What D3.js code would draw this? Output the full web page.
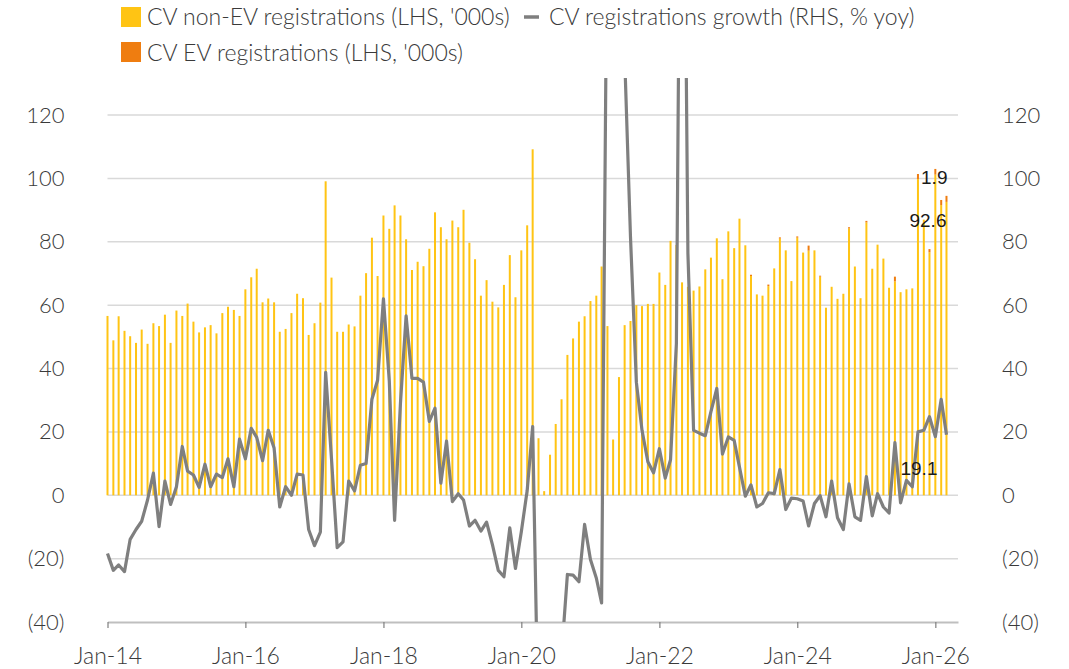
<!DOCTYPE html>
<html><head><meta charset="utf-8">
<script src="https://cdn.jsdelivr.net/npm/d3@7"></script>
<style>
body{margin:0;background:#fff;}
svg{display:block;}
.lbl{font-family:Lato,"Open Sans",sans-serif;fill:#3a3a3a;font-weight:300;}
</style>
</head><body>
<svg id="chart" width="1069" height="669"></svg>
<script>
// ---- DATA (Jan-14 .. Mar-26, monthly) ----
const firstMonth = [2014, 0];
const nonEV = [
 56.6,48.9,56.5,51.9,50.2,48.1,52.3,47.8,54.3,53.4,57.0,48.1,
 58.3,56.6,60.5,54.8,51.4,53.0,53.7,51.1,57.5,59.5,58.5,56.6,
 65.0,68.8,71.5,60.9,62.1,60.9,51.6,52.5,57.5,63.6,62.2,50.6,
 54.3,60.8,99.1,68.7,51.6,51.6,53.9,53.3,63.0,70.1,81.3,69.2,
 88.3,84.1,91.5,88.3,80.8,71.1,73.7,72.3,77.8,89.3,84.6,80.8,
 86.7,84.6,90.1,79.7,74.5,63.0,67.9,61.1,59.3,66.4,75.8,62.5,
 77.3,85.2,109.2,18.0,1.3,12.8,22.5,30.3,44.3,49.5,54.8,56.5,
 61.3,63.0,72.2,53.4,17.6,37.3,53.7,55.0,60.0,59.7,60.4,60.4,
 70.3,66.4,80.3,79.0,67.2,65.8,64.6,65.9,71.3,75.0,81.1,68.2,
 83.3,78.0,87.3,78.9,69.2,63.4,63.0,66.0,71.6,81.0,77.3,67.6,
 81.3,76.6,77.2,77.3,69.0,59.2,65.8,62.0,63.6,84.2,72.2,62.2,
 86.1,71.5,79.1,74.7,65.5,67.5,64.1,65.0,65.3,99.8,87.0,76.7,
 101.2,91.6,92.6
];
const ev = [
 0,0,0,0,0,0,0,0,0,0,0,0,
 0,0,0,0,0,0,0,0,0,0,0,0,
 0,0,0,0,0,0,0,0,0,0,0,0,
 0,0,0,0,0,0,0,0,0,0,0,0,
 0,0,0,0,0,0,0,0,0,0,0,0,
 0,0,0,0,0,0,0,0,0,0,0,0,
 0,0,0,0,0,0,0,0,0,0,0,0,
 0,0,0,0,0,0,0,0,0,0,0,0,
 0,0,0,0,0,0,0,0,0,0,0,0,
 0,0,0,0,0.4,0,0,0.5,0,0.4,0,0,
 0.4,0,1.6,0,0.3,0,0,0,0,0.4,0,0,
 0.5,0,0,0,0,1.5,0,0,0,1.6,0,1.0,
 1.8,1.6,1.9
];
const growth = [
 -18.4,-23.7,-22.0,-24.1,-13.9,-10.8,-8.2,-1.5,7.0,-9.9,4.5,-2.9,
 2.7,15.4,7.6,6.4,2.5,9.8,2.7,6.7,5.6,11.5,2.7,17.7,
 11.5,21.1,18.3,10.9,20.5,14.9,-3.7,2.7,0.0,6.7,6.4,-10.8,
 -15.9,-11.6,38.8,11.5,-16.5,-14.7,4.5,1.4,9.5,10.0,30.3,36.3,
 62.0,36.0,-7.9,29.0,56.6,36.9,36.9,35.7,23.3,27.5,3.8,17.1,
 -2.0,0.5,-1.5,-9.7,-7.9,-11.3,-8.5,-15.6,-23.7,-25.7,-10.3,-23.1,
 -11.5,1.5,21.7,-77.4,-98.3,-79.7,-66.9,-50.4,-25.0,-25.2,-27.3,-9.2,
 -20.3,-26.1,-34.0,196.7,1253.8,191.4,138.7,81.5,35.7,20.5,10.6,7.1,
 14.7,5.4,11.2,47.9,281.8,76.4,20.5,19.6,18.8,26.4,33.7,13.0,
 18.4,17.3,8.9,-0.3,3.3,-3.7,-2.6,0.8,0.5,8.1,-4.5,-0.9,
 -1.1,-1.8,-9.7,-2.6,-0.1,-6.8,4.5,-7.1,-10.8,3.6,-6.8,-7.9,
 5.9,-6.5,0.5,-3.7,-5.6,16.6,-2.4,4.7,2.7,20.0,20.5,24.8,
 18.5,30.3,19.1
];
const yTickValues = [-40,-20,0,20,40,60,80,100,120];
const xTickYears = [2014,2016,2018,2020,2022,2024,2026];
const legendLabels = ["CV non-EV registrations (LHS, '000s)", "CV registrations growth (RHS, % yoy)", "CV EV registrations (LHS, '000s)"];

// ---- BUILD ----
const months = nonEV.map((_, i) => new Date(Date.UTC(firstMonth[0], firstMonth[1] + i, 1)));
const rows = months.map((d, i) => ({date: d, nonEV: nonEV[i], ev: ev[i], growth: growth[i]}));

const svg = d3.select("#chart");
const L = 107.5, R = 958, T = 78, B = 622;

const x = d3.scaleUtc().domain([new Date(Date.UTC(2014,0,1)), new Date(Date.UTC(2026,4,1))]).range([L, R]);
const yL = d3.scaleLinear().domain([-40, 131.7]).range([B, T]);
const yR = d3.scaleLinear().domain([-40, 131.7]).range([B, T]);

const fmt = d => d < 0 ? `(${-d})` : `${d}`;

// gridlines
svg.append("g").selectAll("line").data(yTickValues.filter(v => v > -40)).join("line")
  .attr("x1", L).attr("x2", R).attr("y1", d => yL(d)).attr("y2", d => yL(d))
  .attr("stroke", "#d9d9d9").attr("stroke-width", 1.5);

// stacked bars
const stack = d3.stack().keys(["nonEV", "ev"]);
const series = stack(rows);
const colors = {nonEV: "#FFC414", ev: "#EF7D10"};
svg.append("g").selectAll("g").data(series).join("g")
  .attr("fill", s => colors[s.key])
  .selectAll("rect").data(s => s.filter(d => d[1] - d[0] > 0)).join("rect")
  .attr("x", d => x(d.data.date) - 1)
  .attr("width", 2)
  .attr("y", d => yL(d[1]))
  .attr("height", d => yL(d[0]) - yL(d[1]));

// x axis
const xAxis = d3.axisBottom(x)
  .tickValues(xTickYears.map(yr => new Date(Date.UTC(yr, 0, 1))))
  .tickFormat(d3.utcFormat("%b-%y"))
  .tickSize(6).tickSizeOuter(0).tickPadding(20);
const gx = svg.append("g").attr("transform", `translate(0,${B})`).call(xAxis);
gx.select(".domain").attr("stroke", "#bfbfbf").attr("stroke-width", 2);
gx.selectAll(".tick line").attr("stroke", "#7f7f7f").attr("stroke-width", 1.2);
gx.selectAll(".tick text").attr("class", "lbl").attr("font-size", 23);

// y axes
const gl = svg.append("g").attr("transform", `translate(${L},0)`)
  .call(d3.axisLeft(yL).tickValues(yTickValues).tickFormat(fmt).tickSize(0).tickPadding(43));
gl.select(".domain").remove();
gl.selectAll(".tick text").attr("class", "lbl").attr("font-size", 22);
const gr = svg.append("g").attr("transform", `translate(${R},0)`)
  .call(d3.axisRight(yR).tickValues(yTickValues).tickFormat(fmt).tickSize(0).tickPadding(44));
gr.select(".domain").remove();
gr.selectAll(".tick text").attr("class", "lbl").attr("font-size", 22);

// growth line (clipped to plot)
svg.append("clipPath").attr("id", "clip").append("rect")
  .attr("x", L - 5).attr("y", T).attr("width", R - L + 10).attr("height", B - T);
svg.append("path").datum(rows)
  .attr("clip-path", "url(#clip)")
  .attr("fill", "none").attr("stroke", "#7f7f7f").attr("stroke-width", 3.2)
  .attr("stroke-linejoin", "round")
  .attr("d", d3.line().x(d => x(d.date)).y(d => yR(d.growth)));

// data labels for latest month
const last = rows[rows.length - 1];
const lx = x(last.date);
const dl = svg.append("g").attr("font-family", "'Liberation Sans', Arial, sans-serif")
  .attr("font-size", 19).attr("fill", "#1a1a1a").attr("text-anchor", "end");
dl.append("text").attr("x", lx + 1).attr("y", yL(last.nonEV + last.ev) - 12).text(d3.format(".1f")(last.ev));
dl.append("text").attr("x", lx).attr("y", yL(last.nonEV) + 25).text(d3.format(".1f")(last.nonEV));
dl.append("text").attr("x", lx - 9).attr("y", yR(last.growth) + 40).text(d3.format(".1f")(last.growth));

// legend
const lg = svg.append("g");
lg.append("rect").attr("x", 121).attr("y", 7).attr("width", 20).attr("height", 20).attr("fill", colors.nonEV);
lg.append("text").attr("class", "lbl").attr("font-size", 23).attr("x", 147).attr("y", 25).text(legendLabels[0]);
lg.append("line").attr("x1", 524).attr("x2", 539).attr("y1", 17).attr("y2", 17).attr("stroke", "#7f7f7f").attr("stroke-width", 3.5);
lg.append("text").attr("class", "lbl").attr("font-size", 23).attr("x", 549).attr("y", 25).text(legendLabels[1]);
lg.append("rect").attr("x", 121).attr("y", 42).attr("width", 20).attr("height", 20).attr("fill", colors.ev);
lg.append("text").attr("class", "lbl").attr("font-size", 23).attr("x", 147).attr("y", 61).text(legendLabels[2]);
</script>
</body></html>
